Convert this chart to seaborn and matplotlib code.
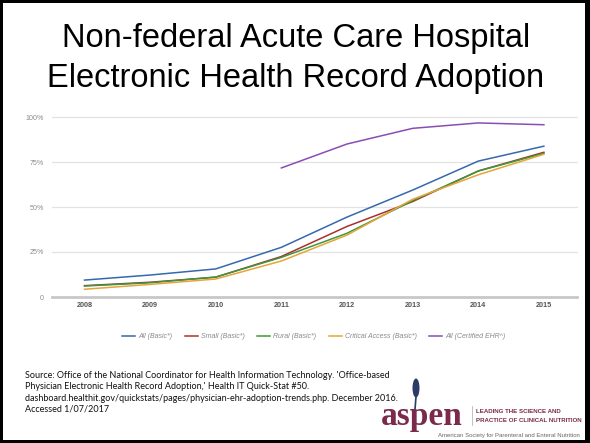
import numpy as np
import pandas as pd
import matplotlib
matplotlib.use("Agg")
import matplotlib.pyplot as plt
import seaborn as sns
from matplotlib.patches import Rectangle, Ellipse
from matplotlib.lines import Line2D

# ---------------- data ----------------
years = [2008, 2009, 2010, 2011, 2012, 2013, 2014, 2015]
all_basic = [9.4, 12.2, 15.6, 27.6, 44.4, 59.4, 75.5, 83.8]
small_basic = [6.3, 8.2, 11.0, 22.5, 39.2, 53.0, 70.0, 80.4]
rural_basic = [6.1, 7.9, 11.1, 22.0, 35.4, 53.5, 70.0, 79.8]
critical_basic = [4.3, 7.0, 10.0, 20.0, 34.4, 54.3, 67.9, 79.3]
all_certified = [np.nan, np.nan, np.nan, 71.7, 85.0, 93.7, 96.7, 95.7]

series_names = ["All (Basic*)", "Small (Basic*)", "Rural (Basic*)",
                "Critical Access (Basic*)", "All (Certified EHR^)"]
series_values = [all_basic, small_basic, rural_basic, critical_basic, all_certified]
colors = ["#3569ad", "#a8312f", "#3c983c", "#e6a43a", "#8b4db5"]

y_ticks = [0, 25, 50, 75, 100]
y_tick_labels = ["0", "25%", "50%", "75%", "100%"]

title_lines = ["Non-federal Acute Care Hospital", "Electronic Health Record Adoption"]
source_lines = [
    "Source: Office of the National Coordinator for Health Information Technology. 'Office-based",
    "Physician Electronic Health Record Adoption,' Health IT Quick-Stat #50.",
    "dashboard.healthit.gov/quickstats/pages/physician-ehr-adoption-trends.php. December 2016.",
    "Accessed 1/07/2017",
]

rows = []
for name, vals in zip(series_names, series_values):
    for y, v in zip(years, vals):
        rows.append({"year": y, "value": v, "series": name})
df = pd.DataFrame(rows).dropna()

# ---------------- figure ----------------
W, H = 590, 443
fig = plt.figure(figsize=(W / 100, H / 100), dpi=100)
fig.patch.set_facecolor("black")
fig.patches.append(Rectangle((3 / W, 3 / H), 582 / W, 437 / H, transform=fig.transFigure,
                             facecolor="white", edgecolor="none", zorder=-5))

def fx(px):
    return px / W

def fy(py):
    return 1 - py / H

ax = fig.add_axes([fx(51.7), fy(297), fx(576.7) - fx(51.7), fy(117) - fy(297)])
ax.set_zorder(2)
ax.set_facecolor("white")
sns.lineplot(data=df, x="year", y="value", hue="series", hue_order=series_names,
             palette=colors, ax=ax, legend=False, linewidth=1.1, sort=True,
             estimator=None)
ax.set_xlim(2007.5, 2015.5)
ax.set_ylim(0, 100)
for s in ax.spines.values():
    s.set_visible(False)
ax.set_yticks(y_ticks)
ax.set_yticklabels(y_tick_labels)
ax.set_xticks(years)
ax.set_xticklabels([str(y) for y in years])
ax.tick_params(axis="both", length=0)
ax.tick_params(axis="y", pad=5.5, labelsize=5.1, labelcolor="#8c8c8c")
ax.tick_params(axis="x", pad=3.5, labelsize=5.2, labelcolor="#555555")
for lab in ax.get_yticklabels() + ax.get_xticklabels():
    lab.set_fontfamily("Liberation Sans")
for lab in ax.get_xticklabels():
    lab.set_fontweight("bold")
ax.set_xlabel("")
ax.set_ylabel("")
for t in y_ticks[1:]:
    ax.axhline(t, color="#e3e3e3", lw=0.9, zorder=0)
ax.axhline(0, color="#c8c8c8", lw=2.0, zorder=1, clip_on=False)
for ln in ax.lines:
    ln.set_clip_on(False)

# legend
handles = [Line2D([0], [0], color=c, lw=1.1) for c in colors]
leg = fig.legend(handles, series_names, loc="center", bbox_to_anchor=(fx(314), fy(336.7)),
                 ncol=5, frameon=False, handlelength=1.9, handletextpad=0.45,
                 columnspacing=1.75,
                 prop={"family": "Liberation Sans", "style": "italic", "size": 5})
for t in leg.get_texts():
    t.set_color("#8a8a8a")

# title
fig.text(fx(296), fy(47), title_lines[0], ha="center", va="baseline",
         fontsize=23.5, family="Liberation Sans", color="black")
fig.text(fx(296), fy(87), title_lines[1], ha="center", va="baseline",
         fontsize=23.5, family="Liberation Sans", color="black")

# source
for i, line in enumerate(source_lines):
    fig.text(fx(25), fy(375.7 + 11.2 * i), line, ha="left", va="center",
             fontsize=6.45, family="Lato", color="#111111")

# logo
maroon = "#7a2a4a"
fig.text(fx(381), fy(424.5), "aspen", ha="left", va="baseline", fontsize=24,
         family="Liberation Serif", fontweight="bold", color=maroon)
fig.patches.append(Ellipse((fx(416), fy(388)), 7 / W, 19 / H, transform=fig.transFigure,
                           facecolor="#2e3b66", edgecolor="none"))
fig.lines.append(Line2D([fx(416), fx(415)], [fy(397), fy(409)], transform=fig.transFigure,
                        color="#2e3b66", lw=1.2))
fig.lines.append(Line2D([fx(472), fx(472)], [fy(406), fy(425)], transform=fig.transFigure,
                        color="#aaaaaa", lw=0.5))
fig.text(fx(476), fy(411.7), "LEADING THE SCIENCE AND", ha="left", va="center",
         fontsize=4.4, family="Liberation Sans", fontweight="bold", color=maroon)
fig.text(fx(476), fy(420.7), "PRACTICE OF CLINICAL NUTRITION", ha="left", va="center",
         fontsize=4.4, family="Liberation Sans", fontweight="bold", color=maroon)
fig.text(fx(580), fy(435.3), "American Society for Parenteral and Enteral Nutrition",
         ha="right", va="center", fontsize=4.3, family="Liberation Sans", color="#666666")

fig.savefig("out.png", dpi=100, facecolor=fig.get_facecolor())
